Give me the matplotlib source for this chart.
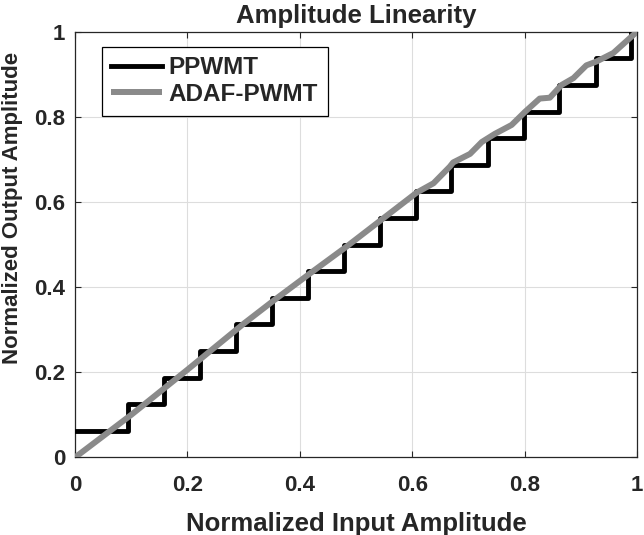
import matplotlib.pyplot as plt

# PPWMT staircase: riser positions and output levels
ppwmt_x = [0.0, 0.095, 0.158, 0.222, 0.286, 0.350, 0.414, 0.478, 0.542,
           0.606, 0.670, 0.735, 0.799, 0.862, 0.927, 0.990, 1.0]
ppwmt_y = [0.0625, 0.125, 0.1875, 0.25, 0.3125, 0.375, 0.4375, 0.5, 0.5625,
           0.625, 0.6875, 0.75, 0.8125, 0.875, 0.9375, 1.0, 1.0]

# ADAF-PWMT transfer curve
adaf_x = [0.0, 0.10, 0.20, 0.30, 0.353, 0.418, 0.483, 0.543, 0.608, 0.638,
          0.667, 0.673, 0.703, 0.724, 0.747, 0.777, 0.801, 0.827, 0.845,
          0.866, 0.887, 0.910, 0.928, 0.958, 1.0]
adaf_y = [0.0, 0.10, 0.206, 0.314, 0.368, 0.432, 0.495, 0.556, 0.622, 0.644,
          0.683, 0.693, 0.713, 0.741, 0.760, 0.781, 0.812, 0.843, 0.845,
          0.875, 0.891, 0.921, 0.930, 0.950, 1.0]

ticks = [0, 0.2, 0.4, 0.6, 0.8, 1]
tick_labels = ['0', '0.2', '0.4', '0.6', '0.8', '1']

plt.rcParams['font.family'] = ['Liberation Sans', 'DejaVu Sans']
plt.rcParams['font.weight'] = 'bold'
txt = '#262626'

fig = plt.figure(figsize=(6.44, 5.35), dpi=100)
ax = fig.add_axes([0.1165, 0.145, 0.8725, 0.7957])

ax.step(ppwmt_x, ppwmt_y, where='post', color='black', lw=3.5,
        label='PPWMT', zorder=3)
ax.plot(adaf_x, adaf_y, color='#8a8a8a', lw=4.3, label='ADAF-PWMT',
        zorder=4, solid_capstyle='butt')

ax.set_xlim(0, 1)
ax.set_ylim(0, 1)
ax.set_xticks(ticks)
ax.set_xticklabels(tick_labels)
ax.set_yticks(ticks)
ax.set_yticklabels(tick_labels)
ax.grid(True, color='#dddddd', lw=0.8, zorder=0)
ax.tick_params(axis='both', direction='in', top=True, right=True, length=4,
               labelsize=16, colors=txt)
ax.tick_params(axis='x', pad=13)
ax.tick_params(axis='y', pad=7)
for s in ax.spines.values():
    s.set_color(txt)
    s.set_linewidth(0.9)

ax.set_xlabel('Normalized Input Amplitude', fontsize=18.5, color=txt,
              fontweight='bold', labelpad=11)
ax.set_ylabel('Normalized Output Amplitude', fontsize=16, color=txt,
              fontweight='bold')
ax.yaxis.set_label_coords(-0.093, 0.586)
ax.set_title('Amplitude Linearity', fontsize=18.5, color=txt,
             fontweight='bold', pad=6)

leg = ax.legend(loc='upper left', bbox_to_anchor=(0.0475, 0.965),
                borderaxespad=0, fancybox=False, framealpha=1,
                edgecolor='black', fontsize=17.5, handlelength=2.1,
                handletextpad=0.25, borderpad=0.4, labelspacing=0.15)
leg.get_frame().set_linewidth(0.9)
for t in leg.get_texts():
    t.set_color(txt)

fig.savefig('out.png', dpi=100)
